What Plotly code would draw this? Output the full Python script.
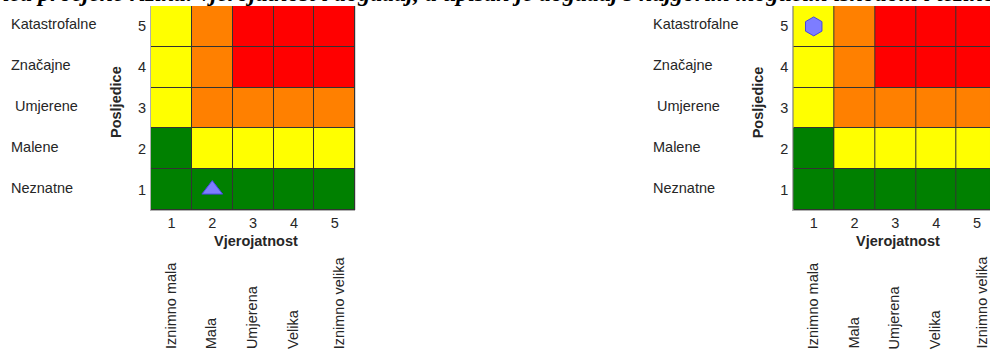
import plotly.graph_objects as go

# ---- data ----
likelihood = [1, 2, 3, 4, 5]
consequence = [1, 2, 3, 4, 5]
consequence_labels = ["Neznatne", "Malene", " Umjerene", "Značajne", "Katastrofalne"]
likelihood_labels = ["Iznimno mala", "Mala", "Umjerena", "Velika", "Iznimno velika"]
# risk level per cell: rows = consequence 1..5 (bottom to top), cols = likelihood 1..5
# 0 = green, 1 = yellow, 2 = orange, 3 = red
risk_levels = [
    [0, 0, 0, 0, 0],
    [0, 1, 1, 1, 1],
    [1, 2, 2, 2, 2],
    [1, 2, 3, 3, 3],
    [1, 2, 3, 3, 3],
]
risk_colors = ["#008000", "#FFFF00", "#FF8000", "#FF0000"]
left_event_x, left_event_y = [2], [1]
right_event_x, right_event_y = [1], [5]
title_text = ("Slika 3. Matrica procjene rizika: vjerojatnost i događaj, a upisan je "
              "događaj s najgorim mogućim ishodom i težinom posljedica")

W, H = 990, 350
FONT = "Liberation Sans, Arial, sans-serif"
TXT = "#262626"
FS = 14.5

cs = []
n = len(risk_colors)
for i, c in enumerate(risk_colors):
    cs.append([i / n, c])
    cs.append([(i + 1) / n, c])

fig = go.Figure()


def add_matrix(xa, ya, ex, ey, symbol, msize):
    fig.add_trace(go.Heatmap(
        x=likelihood, y=consequence, z=risk_levels,
        colorscale=cs, zmin=-0.5, zmax=n - 0.5, showscale=False,
        xgap=1, ygap=1, hoverinfo="skip", xaxis=xa, yaxis=ya))
    fig.add_trace(go.Scatter(
        x=ex, y=ey, mode="markers", xaxis=xa, yaxis=ya, showlegend=False,
        marker=dict(symbol=symbol, size=msize, color="rgb(125,125,255)",
                    line=dict(color="rgb(70,70,225)", width=1))))


add_matrix("x", "y", left_event_x, left_event_y, "triangle-up", 18)
add_matrix("x2", "y2", right_event_x, right_event_y, "hexagon", 19)

cell = 40.84
left_x0 = 151
right_x0 = 793.3
grid_top, grid_bot = 6, 210
ydom = [(H - grid_bot) / H, (H - grid_top) / H]

axis_common = dict(tickvals=likelihood, ticks="", showgrid=False, zeroline=False,
                   tickfont=dict(family=FONT, size=FS, color=TXT), fixedrange=True,
                   showline=True, linecolor="#b0b0b0", linewidth=1)

fig.update_layout(
    width=W, height=H, margin=dict(l=0, r=0, t=0, b=0),
    paper_bgcolor="white", plot_bgcolor="#333333", showlegend=False,
    xaxis=dict(domain=[left_x0 / W, (left_x0 + 5 * cell) / W], range=[0.5, 5.5],
               anchor="y", ticklabelstandoff=0, **axis_common),
    yaxis=dict(domain=ydom, range=[0.5, 5.5], anchor="x", ticklabelstandoff=1,
               **axis_common),
    xaxis2=dict(domain=[right_x0 / W, 1.0], range=[0.5, 0.5 + (W - right_x0) / cell],
                anchor="y2", ticklabelstandoff=0, **axis_common),
    yaxis2=dict(domain=ydom, range=[0.5, 5.5], anchor="x2", ticklabelstandoff=1,
                **axis_common),
)

ann = []
for base_x, yref, xref, xl, pos_x, vj_x in [
        (8.7, "y", "x", left_x0, 116, 256),
        (650.7, "y2", "x2", right_x0, 758.3, 898.3)]:
    for c, lab in zip(consequence, consequence_labels):
        ann.append(dict(text=lab, xref="paper", x=base_x / W, xanchor="left",
                        yref=yref, y=c, yanchor="middle", yshift=2, showarrow=False,
                        font=dict(family=FONT, size=FS, color=TXT)))
    ann.append(dict(text="<b>Posljedice</b>", xref="paper", x=pos_x / W, xanchor="center",
                    yref="paper", y=(H - 102) / H, yanchor="middle", textangle=-90,
                    showarrow=False, font=dict(family=FONT, size=FS, color=TXT)))
    ann.append(dict(text="<b>Vjerojatnost</b>", xref="paper", x=vj_x / W, xanchor="center",
                    yref="paper", y=(H - 240.7) / H, yanchor="middle",
                    showarrow=False, font=dict(family=FONT, size=FS, color=TXT)))
    for lx, lab in zip(likelihood, likelihood_labels):
        ann.append(dict(text=lab, xref=xref, x=lx, xanchor="center",
                        xshift=(4 if lx == 5 else -1),
                        yref="paper", y=(H - 351) / H, yanchor="bottom", textangle=-90,
                        showarrow=False, font=dict(family=FONT, size=FS, color=TXT)))

ann.append(dict(text="<b><i>" + title_text + "</i></b>", xref="paper", x=0.5,
                xanchor="center", yref="paper", y=1, yanchor="bottom", yshift=-8,
                showarrow=False,
                font=dict(family="Liberation Serif, Times New Roman, serif", size=24,
                          color="black")))
fig.update_layout(annotations=ann)

fig.write_html("out.html", config={"displayModeBar": False},
               post_script="document.body.style.margin='0';document.body.style.overflow='hidden';")
